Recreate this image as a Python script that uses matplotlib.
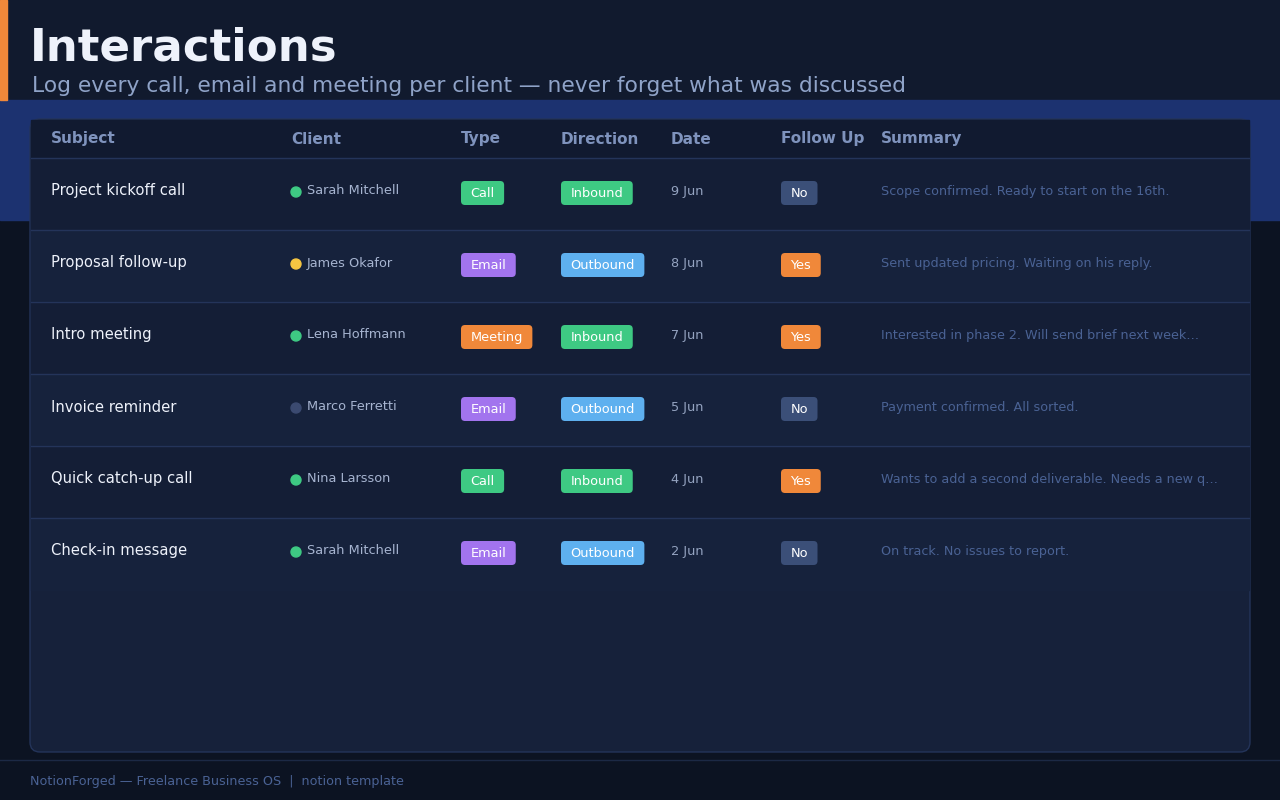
import matplotlib
matplotlib.use("Agg")
import matplotlib.pyplot as plt
from matplotlib.patches import FancyBboxPatch, Rectangle, Circle

subjects = ["Project kickoff call", "Proposal follow-up", "Intro meeting", "Invoice reminder", "Quick catch-up call", "Check-in message"]
clients = ["Sarah Mitchell", "James Okafor", "Lena Hoffmann", "Marco Ferretti", "Nina Larsson", "Sarah Mitchell"]
client_status = ["green", "yellow", "green", "slate", "green", "green"]
types = ["Call", "Email", "Meeting", "Email", "Call", "Email"]
directions = ["Inbound", "Outbound", "Inbound", "Outbound", "Inbound", "Outbound"]
dates = ["9 Jun", "8 Jun", "7 Jun", "5 Jun", "4 Jun", "2 Jun"]
follow_up = ["No", "Yes", "Yes", "No", "Yes", "No"]
summaries = ["Scope confirmed. Ready to start on the 16th.",
             "Sent updated pricing. Waiting on his reply.",
             "Interested in phase 2. Will send brief next week…",
             "Payment confirmed. All sorted.",
             "Wants to add a second deliverable. Needs a new q…",
             "On track. No issues to report."]
columns = ["Subject", "Client", "Type", "Direction", "Date", "Follow Up", "Summary"]
col_x = [51, 291, 461, 561, 671, 781, 881]

dot_colors = {"green": "#3ec983", "yellow": "#f5c542", "slate": "#3b4a70"}
badge_colors = {"Call": "#3ec983", "Email": "#a274ee", "Meeting": "#f0883a",
                "Inbound": "#3ec983", "Outbound": "#5eb0ef", "No": "#3b4f78", "Yes": "#f0883a"}

fig = plt.figure(figsize=(12.8, 8), dpi=100)
fig.patch.set_facecolor("#0c1322")
ax = fig.add_axes([0, 0, 1, 1])
ax.set_xlim(0, 1280); ax.set_ylim(800, 0); ax.axis("off")

ax.add_patch(Rectangle((0, 0), 1280, 100, color="#111a2e", zorder=0))
ax.add_patch(Rectangle((0, 100), 1280, 120, color="#1c3270", zorder=0))
ax.add_patch(Rectangle((0, 0), 7, 100, color="#f0883a", zorder=1))
ax.text(30, 48, "Interactions", color="#eef2fb", fontsize=32.5, fontweight="bold", va="center")
ax.text(32, 86, "Log every call, email and meeting per client — never forget what was discussed",
        color="#8fa3c8", fontsize=15.7, va="center")

ax.add_patch(FancyBboxPatch((30, 119), 1220, 633, boxstyle="round,pad=0,rounding_size=10",
                            fc="#16213a", ec="#24345a", lw=1, zorder=1))
ax.add_patch(Rectangle((31, 120), 1218, 38, color="#111a30", zorder=2))
ax.plot([31, 1249], [158, 158], color="#24345a", lw=1, zorder=3)
for x, c in zip(col_x, columns):
    ax.text(x, 139, c, color="#7f93bd", fontsize=11, fontweight="bold", va="center", zorder=4)

fig.canvas.draw()
r = fig.canvas.get_renderer()

def badge(x, y, label):
    t = ax.text(0, 0, label, fontsize=9.3)
    w = t.get_window_extent(renderer=r).width
    t.remove()
    bw = w + 19
    ax.add_patch(FancyBboxPatch((x, y - 12), bw, 24, boxstyle="round,pad=0,rounding_size=4",
                                fc=badge_colors[label], ec="none", zorder=4))
    ax.text(x + bw / 2, y + 0.5, label, color="white", fontsize=9.3, ha="center", va="center", zorder=5)

for i in range(len(subjects)):
    top = 158 + 72 * i
    ax.add_patch(Rectangle((31, top), 1218, 72, color="#141e36" if i % 2 == 0 else "#16223c", zorder=2))
    if i < len(subjects) - 1:
        ax.plot([31, 1249], [top + 72, top + 72], color="#24345a", lw=1, zorder=3)
    yc = top + 33
    ax.text(51, yc, subjects[i], color="#eef2fb", fontsize=10.6, va="center", zorder=4)
    ax.add_patch(Circle((296, yc + 1), 5, color=dot_colors[client_status[i]], zorder=4))
    ax.text(307, yc, clients[i], color="#a6b4d0", fontsize=9.3, va="center", zorder=4)
    badge(461, yc + 2, types[i])
    badge(561, yc + 2, directions[i])
    ax.text(671, yc, dates[i], color="#94a3c0", fontsize=9.3, va="center", zorder=4)
    badge(781, yc + 2, follow_up[i])
    ax.text(881, yc, summaries[i], color="#4a6294", fontsize=9.2, va="center", zorder=4)

ax.plot([0, 1280], [760, 760], color="#1c2945", lw=1)
ax.text(30, 782, "NotionForged — Freelance Business OS  |  notion template", color="#4a6294",
        fontsize=9.2, va="center")

fig.savefig("out.png", dpi=100, facecolor=fig.get_facecolor())
